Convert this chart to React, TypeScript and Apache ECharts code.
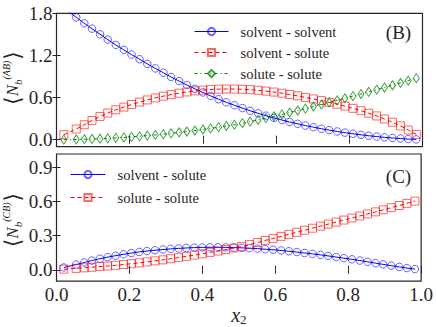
import React, { useEffect, useRef } from 'react';
import * as echarts from 'echarts';

// mole fraction of the solute (x2)
const xValues = [
  0.020, 0.054, 0.076, 0.097, 0.119, 0.140, 0.162, 0.184, 0.205, 0.227,
  0.248, 0.270, 0.292, 0.313, 0.335, 0.356, 0.378, 0.400, 0.421, 0.443,
  0.464, 0.486, 0.508, 0.529, 0.551, 0.572, 0.594, 0.616, 0.637, 0.659,
  0.680, 0.702, 0.724, 0.745, 0.767, 0.788, 0.810, 0.832, 0.853, 0.875,
  0.896, 0.918, 0.940, 0.961, 0.983,
];

// panel (B): <N_b^(AB)>
const solventSolventB = [
  1.870, 1.743, 1.657, 1.581, 1.501, 1.425, 1.350, 1.280, 1.212, 1.146,
  1.080, 1.015, 0.953, 0.893, 0.835, 0.779, 0.725, 0.673, 0.624, 0.577,
  0.532, 0.490, 0.450, 0.412, 0.376, 0.342, 0.310, 0.280, 0.252, 0.226,
  0.201, 0.178, 0.156, 0.136, 0.117, 0.100, 0.084, 0.069, 0.056, 0.044,
  0.033, 0.024, 0.016, 0.009, 0.004,
];
const solventSoluteB = [
  0.071, 0.152, 0.213, 0.274, 0.331, 0.379, 0.426, 0.464, 0.501, 0.535,
  0.566, 0.595, 0.620, 0.642, 0.662, 0.680, 0.695, 0.706, 0.714, 0.719,
  0.721, 0.721, 0.718, 0.712, 0.703, 0.692, 0.678, 0.662, 0.644, 0.624,
  0.602, 0.580, 0.556, 0.532, 0.506, 0.478, 0.447, 0.413, 0.377, 0.338,
  0.295, 0.248, 0.196, 0.138, 0.075,
];
const soluteSoluteB = [
  0.000, 0.003, 0.006, 0.010, 0.014, 0.019, 0.025, 0.032, 0.040, 0.048,
  0.058, 0.068, 0.079, 0.090, 0.103, 0.116, 0.130, 0.145, 0.161, 0.178,
  0.195, 0.214, 0.235, 0.258, 0.282, 0.307, 0.333, 0.360, 0.387, 0.415,
  0.443, 0.472, 0.501, 0.530, 0.560, 0.590, 0.620, 0.650, 0.681, 0.712,
  0.743, 0.775, 0.808, 0.842, 0.876,
];

// panel (C): <N_b^(CB)>
const solventSoluteC = [
  0.020, 0.046, 0.064, 0.081, 0.097, 0.111, 0.124, 0.136, 0.147, 0.157,
  0.165, 0.172, 0.178, 0.184, 0.188, 0.192, 0.195, 0.197, 0.198, 0.198,
  0.197, 0.195, 0.193, 0.190, 0.186, 0.181, 0.176, 0.170, 0.163, 0.156,
  0.148, 0.140, 0.131, 0.122, 0.112, 0.102, 0.092, 0.081, 0.070, 0.058,
  0.047, 0.036, 0.025, 0.015, 0.006,
];
const soluteSoluteC = [
  0.005, 0.012, 0.017, 0.022, 0.028, 0.033, 0.039, 0.046, 0.053, 0.061,
  0.069, 0.078, 0.087, 0.097, 0.107, 0.118, 0.129, 0.141, 0.153, 0.165,
  0.178, 0.191, 0.204, 0.222, 0.240, 0.258, 0.276, 0.294, 0.312, 0.330,
  0.348, 0.366, 0.384, 0.402, 0.420, 0.438, 0.456, 0.474, 0.492, 0.510,
  0.528, 0.547, 0.566, 0.585, 0.605,
];

const yTicksB = [0, 0.6, 1.2, 1.8];
const yTicksC = [0, 0.3, 0.6, 0.9];
const legendB = ['solvent - solvent', 'solvent - solute', 'solute - solute'];
const legendC = ['solvent - solute ', 'solute - solute '];

const FONT = 'Liberation Serif';
const INK = '#262626';
const BLUE = '#0000ff';
const RED = '#ff0000';
const GREEN = '#008000';

const pairs = (ys: number[]) => xValues.map((x, i) => [x, ys[i]]);

function makeSeries(
  name: string,
  ys: number[],
  panel: number,
  color: string,
  edge: string,
  lineType: any,
  symbol: string,
  symbolSize: any,
) {
  return {
    type: 'line',
    name,
    data: pairs(ys),
    xAxisIndex: panel * 2,
    yAxisIndex: panel * 2,
    symbol,
    symbolSize,
    showSymbol: true,
    showAllSymbol: true,
    clip: true,
    lineStyle: { color, width: 1, type: lineType },
    itemStyle: { color: 'rgba(255,255,255,0)', borderColor: edge, borderWidth: 1 },
    emphasis: { disabled: true },
  };
}

const tickFmt = (v: number) => v.toFixed(1);

function xAxisPair(gridIndex: number, withLabels: boolean) {
  const base = {
    type: 'value',
    gridIndex,
    min: 0,
    max: 1,
    interval: 0.2,
    axisLine: { show: false },
    splitLine: { show: false },
    axisTick: { show: true, inside: true, length: 4, lineStyle: { color: INK, width: 1 } },
  };
  return [
    {
      ...base,
      position: 'bottom',
      axisLabel: {
        show: withLabels,
        formatter: tickFmt,
        fontFamily: FONT,
        fontSize: 19,
        color: INK,
        margin: 4,
      },
      ...(withLabels
        ? {
            name: '{i|x}{s|2}',
            nameLocation: 'middle',
            nameGap: 6,
            nameTextStyle: {
              rich: {
                i: { fontFamily: FONT, fontStyle: 'italic', fontSize: 20, color: INK, lineHeight: 22, verticalAlign: 'middle' },
                s: { fontFamily: FONT, fontSize: 13, color: INK, lineHeight: 22, verticalAlign: 'bottom', padding: [6, 0, 0, 0] },
              },
            },
          }
        : {}),
    },
    { ...base, position: 'top', axisLabel: { show: false } },
  ];
}

function yAxisPair(gridIndex: number, min: number, max: number, ticks: number[]) {
  const base = {
    type: 'value',
    gridIndex,
    min,
    max,
    axisLine: { show: false },
    splitLine: { show: false },
    axisTick: { show: true, inside: true, length: 4, customValues: ticks, lineStyle: { color: INK, width: 1 } },
  };
  return [
    {
      ...base,
      position: 'left',
      axisLabel: {
        show: true,
        customValues: ticks,
        formatter: tickFmt,
        fontFamily: FONT,
        fontSize: 19,
        color: INK,
        margin: 4,
      },
    },
    { ...base, position: 'right', axisLabel: { show: false } },
  ];
}

function yLabel(sup: string, cx: number, cy: number) {
  return {
    type: 'text',
    x: cx,
    y: cy,
    rotation: Math.PI / 2,
    style: {
      text: `{br|⟨}{n|N}{sub|b}{sup|(${sup})}{br|⟩}`,
      align: 'center',
      verticalAlign: 'middle',
      fill: INK,
      rich: {
        br: { fontFamily: 'DejaVu Serif', fontSize: 22, fill: INK, lineHeight: 28, verticalAlign: 'middle' },
        n: { fontFamily: FONT, fontStyle: 'italic', fontSize: 17, fill: INK, lineHeight: 28, verticalAlign: 'middle' },
        sub: { fontFamily: FONT, fontStyle: 'italic', fontSize: 11, fill: INK, lineHeight: 28, verticalAlign: 'bottom', padding: [0, 0, 3, 0] },
        sup: { fontFamily: FONT, fontStyle: 'italic', fontSize: 10, fill: INK, lineHeight: 28, verticalAlign: 'top', padding: [3, 1, 0, 0] },
      },
    },
  };
}

export default function App() {
  const ref = useRef<HTMLDivElement>(null);

  useEffect(() => {
    if (!ref.current) return;
    const chart = echarts.init(ref.current, null, { renderer: 'svg' });

    const legendText = {
      fontFamily: FONT,
      fontSize: 14.5,
      color: INK,
      rich: { t: { fontFamily: FONT, fontSize: 14.5, color: INK, padding: [0, 0, 0, 7] } },
    };

    chart.setOption({
      animation: false,
      backgroundColor: '#ffffff',
      textStyle: { fontFamily: FONT },
      grid: [
        { left: 56.5, top: 13.3, width: 366, height: 133.4, show: true, borderColor: INK, borderWidth: 1.2, backgroundColor: 'transparent' },
        { left: 56.5, top: 154, width: 366, height: 132.7, show: true, borderColor: INK, borderWidth: 1.2, backgroundColor: 'transparent' },
      ],
      xAxis: [...xAxisPair(0, false), ...xAxisPair(1, true)],
      yAxis: [...yAxisPair(0, -0.1, 1.8, yTicksB), ...yAxisPair(1, -0.1, 1.02, yTicksC)],
      legend: [
        {
          data: legendB,
          orient: 'vertical',
          left: 194,
          top: 24,
          padding: 0,
          itemWidth: 34,
          itemHeight: 9,
          itemGap: 6,
          selectedMode: false,
          lineStyle: { width: 1 },
          formatter: (n: string) => `{t|${n.trim()}}`,
          textStyle: legendText,
        },
        {
          data: legendC,
          orient: 'vertical',
          left: 70,
          top: 167,
          padding: 0,
          itemWidth: 35,
          itemHeight: 9,
          itemGap: 8,
          selectedMode: false,
          lineStyle: { width: 1 },
          formatter: (n: string) => `{t|${n.trim()}}`,
          textStyle: legendText,
        },
      ],
      series: [
        makeSeries(legendB[0], solventSolventB, 0, BLUE, 'rgba(0,0,255,0.6)', 'solid', 'circle', 7.5),
        makeSeries(legendB[1], solventSoluteB, 0, RED, 'rgba(255,0,0,0.6)', [4, 3], 'rect', 8),
        makeSeries(legendB[2], soluteSoluteB, 0, GREEN, 'rgba(0,128,0,0.75)', [3, 3, 1, 3], 'diamond', [6, 9]),
        makeSeries(legendC[0], solventSoluteC, 1, BLUE, 'rgba(0,0,255,0.6)', 'solid', 'circle', 7.5),
        makeSeries(legendC[1], soluteSoluteC, 1, RED, 'rgba(255,0,0,0.6)', [4, 3], 'rect', 8),
      ],
      graphic: [
        yLabel('AB', 12, 78),
        yLabel('CB', 12, 220),
        {
          type: 'text',
          x: 398.5,
          y: 32,
          style: { text: '(B)', fontFamily: FONT, fontSize: 19, fill: INK, align: 'center', verticalAlign: 'middle' },
        },
        {
          type: 'text',
          x: 398.5,
          y: 176,
          style: { text: '(C)', fontFamily: FONT, fontSize: 19, fill: INK, align: 'center', verticalAlign: 'middle' },
        },
      ],
    });

    return () => chart.dispose();
  }, []);

  return (
    <div
      ref={ref}
      style={{ position: 'fixed', left: 0, top: 0, width: 436, height: 327, background: '#fff' }}
    />
  );
}
